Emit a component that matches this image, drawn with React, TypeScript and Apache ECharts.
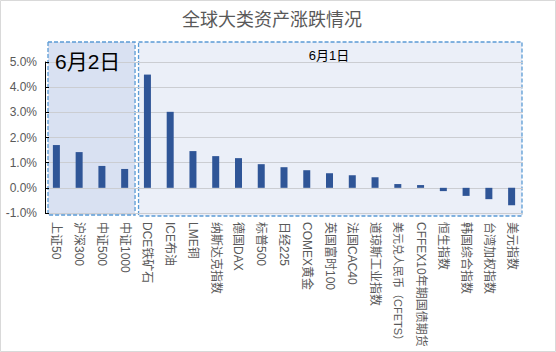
import React, { useEffect, useRef } from "react";
import * as echarts from "echarts";

const categories: string[] = [
  "上证50", "沪深300", "中证500", "中证1000", "DCE铁矿石", "ICE布油", "LME铜",
  "纳斯达克指数", "德国DAX", "标普500", "日经225", "COMEX黄金", "英国富时100",
  "法国CAC40", "道琼斯工业指数", "美元兑人民币（CFETS）", "CFFEX10年期国债期货",
  "恒生指数", "韩国综合指数", "台湾加权指数", "美元指数",
];
const changes: number[] = [
  1.70, 1.42, 0.87, 0.75, 4.50, 3.02, 1.46, 1.26, 1.18, 0.94, 0.82, 0.70, 0.58,
  0.50, 0.42, 0.15, 0.11, -0.13, -0.32, -0.45, -0.69,
];
const groupLabels: string[] = ["6月2日", "6月1日"];
const yMin = -1;
const yMax = 5;
const yStep = 1;

const FONT = 'Arial, "Liberation Sans", "Noto Sans CJK SC", sans-serif';

export default function App() {
  const ref = useRef<HTMLDivElement>(null);
  useEffect(() => {
    if (!ref.current) return;
    const chart = echarts.init(ref.current, null, { renderer: "svg" });
    const axisData = categories.map((c) =>
      c.length > 12 && c.includes("（") ? { value: c, textStyle: { fontSize: 11 } } : c
    );
    chart.setOption({
      animation: false,
      backgroundColor: "#ffffff",
      textStyle: { fontFamily: FONT },
      title: {
        text: "全球大类资产涨跌情况",
        left: 182,
        top: 11,
        padding: 0,
        textStyle: { fontSize: 18, fontWeight: "normal", color: "#595959", fontFamily: FONT },
      },
      grid: {
        left: 45,
        right: 33,
        top: 62,
        bottom: 139,
        containLabel: false,
        outerBoundsMode: "none",
      },
      xAxis: {
        type: "category",
        data: axisData,
        axisLine: { show: false },
        axisTick: { show: false },
        axisLabel: {
          rotate: -90,
          interval: 0,
          margin: 9,
          fontSize: 12,
          color: "#595959",
          fontFamily: FONT,
        },
      },
      yAxis: {
        type: "value",
        min: yMin,
        max: yMax,
        interval: yStep,
        axisLine: { show: true, lineStyle: { color: "#000000", width: 1 } },
        axisTick: { show: true, inside: true, length: 4, lineStyle: { color: "#000000" } },
        axisLabel: {
          formatter: (v: number) => `${v.toFixed(1)}%`,
          fontSize: 12,
          color: "#595959",
          margin: 8,
          fontFamily: FONT,
        },
        splitLine: { show: true, lineStyle: { color: "#CBCDD2", width: 1 } },
      },
      series: [
        {
          type: "bar",
          data: changes,
          barWidth: 7,
          itemStyle: { color: "#2F5597" },
          z: 5,
        },
      ],
    });

    const c0 = chart.convertToPixel({ xAxisIndex: 0 }, categories[0]) as number;
    const c1 = chart.convertToPixel({ xAxisIndex: 0 }, categories[1]) as number;
    const band = c1 - c0;
    const split = (chart.convertToPixel({ xAxisIndex: 0 }, categories[3]) as number) + band / 2;
    const lastEdge = (chart.convertToPixel({ xAxisIndex: 0 }, categories[categories.length - 1]) as number) + band / 2;
    const gridLeft = c0 - band / 2;

    chart.setOption({
      graphic: [
        {
          type: "rect",
          z: -20,
          silent: true,
          shape: { x: 0.5, y: 0.5, width: 555, height: 351 },
          style: { fill: "#ffffff", stroke: "#D9D9D9", lineWidth: 1 },
        },
        {
          type: "rect",
          z: -10,
          silent: true,
          shape: { x: gridLeft + 3, y: 42, width: split - gridLeft - 4, height: 173 },
          style: { fill: "#D9E1F2", stroke: "#5B9BD5", lineWidth: 1.3, lineDash: [4, 2] },
        },
        {
          type: "rect",
          z: -10,
          silent: true,
          shape: { x: split + 2.5, y: 42, width: lastEdge - split - 3.5, height: 174 },
          style: { fill: "#EBEFF8", stroke: "#5B9BD5", lineWidth: 1.3, lineDash: [4, 2] },
        },
        {
          type: "text",
          z: 10,
          silent: true,
          x: 55,
          y: 61,
          style: {
            text: groupLabels[0],
            fontSize: 21,
            fontFamily: FONT,
            fill: "#000000",
            textAlign: "left",
            textVerticalAlign: "middle",
          },
        },
        {
          type: "text",
          z: 10,
          silent: true,
          x: 329,
          y: 55,
          style: {
            text: groupLabels[1],
            fontSize: 13,
            fontFamily: FONT,
            fill: "#000000",
            textAlign: "center",
            textVerticalAlign: "middle",
          },
        },
      ],
    });

    return () => chart.dispose();
  }, []);
  return (
    <div
      ref={ref}
      style={{ position: "absolute", left: 0, top: 0, width: 556, height: 352 }}
    />
  );
}
